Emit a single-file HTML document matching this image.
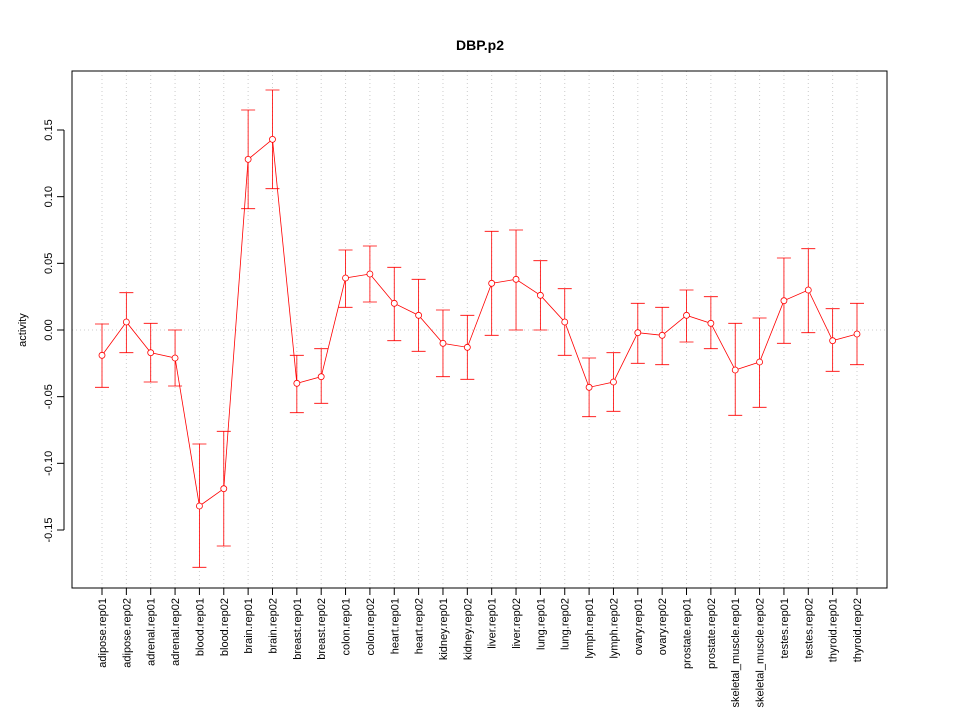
<!DOCTYPE html>
<html><head><meta charset="utf-8"><style>
body{margin:0;background:#fff}
svg{font-family:"Liberation Sans",sans-serif}
</style></head><body>
<svg id="chart" width="960" height="720" xmlns="http://www.w3.org/2000/svg">
<rect width="960" height="720" fill="#fff"/>
<text x="480" y="50" text-anchor="middle" font-weight="bold" font-size="14">DBP.p2</text>
<text transform="translate(26,330) rotate(-90)" text-anchor="middle" font-size="11">activity</text>
<g id="grid"></g><g id="axes"></g><g id="series"></g>
<rect x="72" y="71" width="815" height="517" fill="none" stroke="#000"/>
</svg>
<script>
const categories=["adipose.rep01","adipose.rep02","adrenal.rep01","adrenal.rep02","blood.rep01","blood.rep02","brain.rep01","brain.rep02","breast.rep01","breast.rep02","colon.rep01","colon.rep02","heart.rep01","heart.rep02","kidney.rep01","kidney.rep02","liver.rep01","liver.rep02","lung.rep01","lung.rep02","lymph.rep01","lymph.rep02","ovary.rep01","ovary.rep02","prostate.rep01","prostate.rep02","skeletal_muscle.rep01","skeletal_muscle.rep02","testes.rep01","testes.rep02","thyroid.rep01","thyroid.rep02"];
const values=[-0.019,0.006,-0.017,-0.021,-0.132,-0.119,0.128,0.143,-0.040,-0.035,0.039,0.042,0.020,0.011,-0.010,-0.013,0.035,0.038,0.026,0.006,-0.043,-0.039,-0.002,-0.004,0.011,0.005,-0.030,-0.024,0.022,0.030,-0.008,-0.003];
const upper=[0.0045,0.028,0.005,0.0,-0.0855,-0.076,0.165,0.180,-0.019,-0.014,0.060,0.063,0.047,0.038,0.015,0.011,0.074,0.075,0.052,0.031,-0.021,-0.017,0.020,0.017,0.030,0.025,0.005,0.009,0.054,0.061,0.016,0.020];
const lower=[-0.043,-0.017,-0.039,-0.042,-0.178,-0.162,0.091,0.106,-0.062,-0.055,0.017,0.021,-0.008,-0.016,-0.035,-0.037,-0.004,0.0,0.0,-0.019,-0.065,-0.061,-0.025,-0.026,-0.009,-0.014,-0.064,-0.058,-0.010,-0.002,-0.031,-0.026];
const yTicks=[-0.15,-0.10,-0.05,0.00,0.05,0.10,0.15];
const yTickLabels=["-0.15","-0.10","-0.05","0.00","0.05","0.10","0.15"];
const NS="http://www.w3.org/2000/svg";
const xs=i=>102+i*(857-102)/(categories.length-1);
const ys=v=>330-v*1333.3;
function mk(t,a,p){const e=document.createElementNS(NS,t);for(const k in a)e.setAttribute(k,a[k]);p.appendChild(e);return e;}
const grid=document.getElementById('grid'),axes=document.getElementById('axes'),ser=document.getElementById('series');
categories.forEach((c,i)=>{
 const g=mk('line',{x1:xs(i),x2:xs(i),y1:71,y2:588,stroke:'#ccc','stroke-dasharray':'1,3'},grid);
 
 
 const t=mk('line',{x1:xs(i),x2:xs(i),y1:588,y2:595,stroke:'#000'},axes);
 
 
 const l=mk('text',{transform:`translate(${xs(i)+4},598) rotate(-90)`,'text-anchor':'end','font-size':'11'},axes);
 l.textContent=c;
 
 
});
const h=mk('line',{x1:72,x2:887,y1:ys(0),y2:ys(0),stroke:'#ccc','stroke-dasharray':'1,3'},grid);


const ya=mk('line',{x1:64,x2:64,y1:ys(yTicks[0]),y2:ys(yTicks[yTicks.length-1]),stroke:'#000'},axes);


yTicks.forEach((v,i)=>{
 const t=mk('line',{x1:57,x2:64,y1:ys(v),y2:ys(v),stroke:'#000'},axes);
 
 
 const l=mk('text',{transform:`translate(52,${ys(v)}) rotate(-90)`,'text-anchor':'middle','font-size':'11'},axes);
 l.textContent=yTickLabels[i];
 
 
});
const xa=mk('line',{x1:xs(0),x2:xs(categories.length-1),y1:588,y2:588,stroke:'#000'},axes);


const line=mk('polyline',{points:values.map((v,i)=>xs(i)+','+ys(v)).join(' '),fill:'none',stroke:'#f00','stroke-width':'0.8'},ser);


values.forEach((v,i)=>{
 const x=xs(i);
 const e=mk('path',{d:`M${x},${ys(upper[i])}V${ys(lower[i])}M${x-7},${ys(upper[i])}H${x+7}M${x-7},${ys(lower[i])}H${x+7}`,stroke:'#f00',fill:'none','stroke-width':'0.8'},ser);
 
 
 const p=mk('circle',{cx:x,cy:ys(v),r:3,fill:'#fff',stroke:'#f00','stroke-width':'0.8'},ser);
 
 
});
</script>
</body></html>
